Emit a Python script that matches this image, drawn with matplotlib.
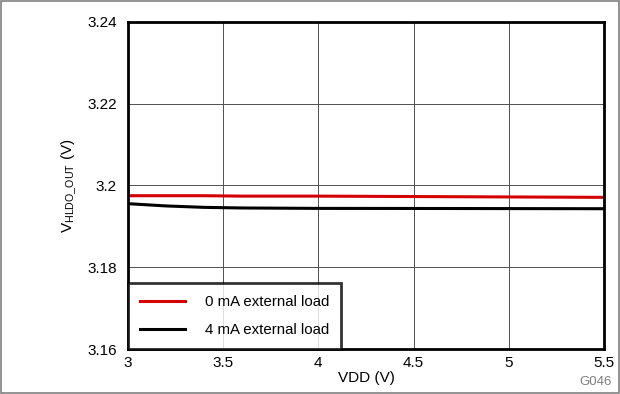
import matplotlib

matplotlib.use("Agg")
import matplotlib.pyplot as plt
from matplotlib.patches import Rectangle

plt.rcParams["font.family"] = ["Liberation Sans", "DejaVu Sans"]
plt.rcParams["mathtext.fontset"] = "custom"
plt.rcParams["mathtext.rm"] = "Liberation Sans"
plt.rcParams["mathtext.it"] = "Liberation Sans"

# Data
vdd = [3.0, 3.2, 3.4, 3.6, 4.0, 4.5, 5.0, 5.5]
v_0ma = [3.1975, 3.1975, 3.1975, 3.1974, 3.1974, 3.1973, 3.1972, 3.1971]
v_4ma = [3.19555, 3.1950, 3.19465, 3.1945, 3.1944, 3.19438, 3.19435, 3.19432]
labels = ["0 mA external load", "4 mA external load"]
x_ticks = [3, 3.5, 4, 4.5, 5, 5.5]
x_ticklabels = ["3", "3.5", "4", "4.5", "5", "5.5"]
y_ticks = [3.16, 3.18, 3.20, 3.22, 3.24]
y_ticklabels = ["3.16", "3.18", "3.2", "3.22", "3.24"]

fig = plt.figure(figsize=(6.2, 3.94), dpi=100)
fig.patches.append(Rectangle((0.002, 0.002), 0.996, 0.996, transform=fig.transFigure,
                             fill=False, edgecolor="#808080", linewidth=1.2))

ax = fig.add_axes([0.2065, 0.1142, 0.7675, 0.8300])
ax.plot(vdd, v_0ma, color="#d40000", linewidth=2.2, label=labels[0])
ax.plot(vdd, v_4ma, color="black", linewidth=2.2, label=labels[1])

ax.set_xlim(3, 5.5)
ax.set_ylim(3.16, 3.24)
ax.set_xticks(x_ticks)
ax.set_xticklabels(x_ticklabels)
ax.set_yticks(y_ticks)
ax.set_yticklabels(y_ticklabels)
ax.tick_params(length=0, labelsize=11, pad=8)
ax.tick_params(axis="x", pad=5)
ax.grid(True, color="#505050", linewidth=0.7)
for s in ax.spines.values():
    s.set_linewidth(2)

ax.set_xlabel("VDD (V)", fontsize=11, labelpad=1)
ax.set_ylabel(r"V$_{\mathrm{HLDO\_OUT}}$ (V)", fontsize=11, labelpad=6)

leg = ax.legend(loc="lower left", bbox_to_anchor=(0, 0), borderaxespad=0,
                fontsize=10.8, frameon=True, fancybox=False, handlelength=3.0,
                handletextpad=1.3, borderpad=0.8, labelspacing=0.95)
leg.get_frame().set_edgecolor("black")
leg.get_frame().set_linewidth(2)

fig.text(0.987, 0.015, "G046", ha="right", va="bottom", fontsize=9.5, color="#808080")

fig.savefig("out.png", dpi=100)
